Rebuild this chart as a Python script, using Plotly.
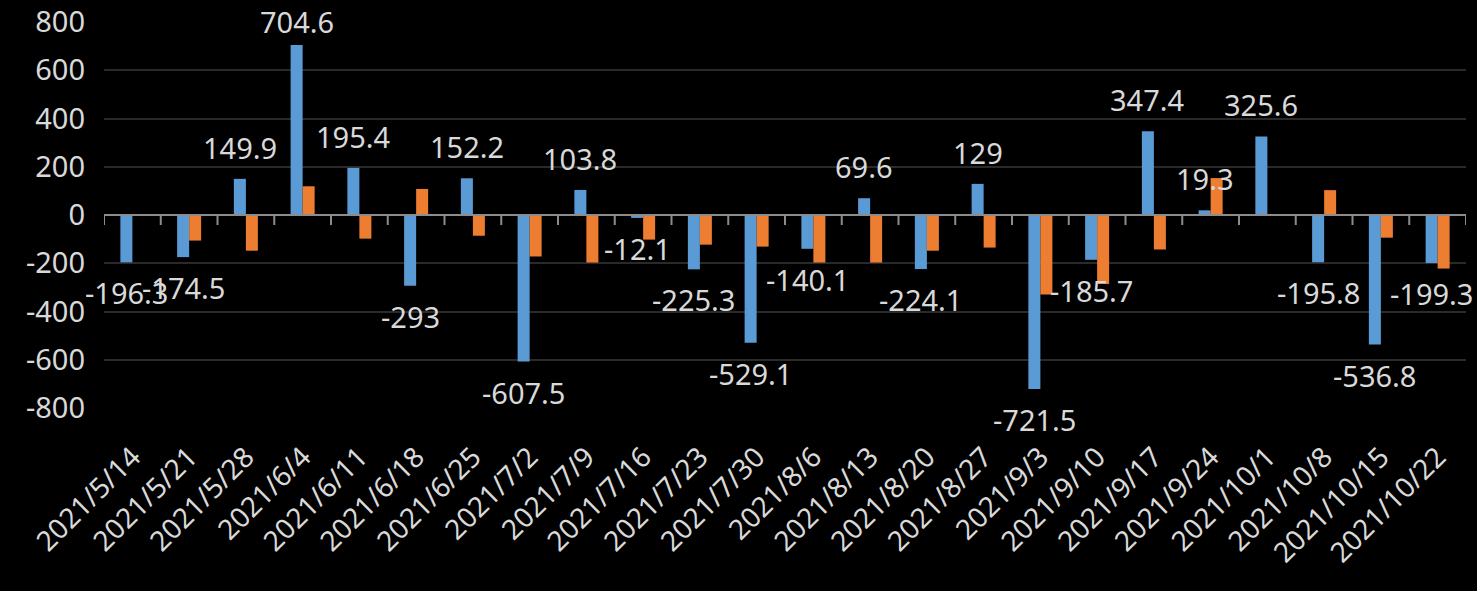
import plotly.graph_objects as go

# ---------------- data ----------------
dates = ["2021/5/14", "2021/5/21", "2021/5/28", "2021/6/4", "2021/6/11", "2021/6/18",
         "2021/6/25", "2021/7/2", "2021/7/9", "2021/7/16", "2021/7/23", "2021/7/30",
         "2021/8/6", "2021/8/13", "2021/8/20", "2021/8/27", "2021/9/3", "2021/9/10",
         "2021/9/17", "2021/9/24", "2021/10/1", "2021/10/8", "2021/10/15", "2021/10/22"]
blue_vals = [-196.3, -174.5, 149.9, 704.6, 195.4, -293, 152.2, -607.5, 103.8, -12.1,
             -225.3, -529.1, -140.1, 69.6, -224.1, 129, -721.5, -185.7, 347.4, 19.3,
             325.6, -195.8, -536.8, -199.3]
orange_vals = [-2, -106, -148, 119, -98, 108, -86, -172, -197, -102, -123, -131,
               -197, -197, -148, -135, -330, -286, -143, 153, -2, 103, -94, -222]
y_ticks = [-800, -600, -400, -200, 0, 200, 400, 600, 800]
y_tick_labels = ["-800", "-600", "-400", "-200", "0", "200", "400", "600", "800"]

# ---------------- style ----------------
FONT = "Noto Sans"
TXT = "#d9d9d9"
BLUE = "#5b9bd5"
ORANGE = "#ed7d31"
AXIS_GRAY = "#8c8c8c"
W, H = 1477, 591
ML, MR, MT, MB = 104, 11, 22, 183
Y_MIN, Y_MAX = -800, 800
LABEL_SIZE = 29
PLOT_H = H - MT - MB
ZERO_FRAC = (0 - Y_MIN) / (Y_MAX - Y_MIN)
TICK_PX = 10
TICK_LEN = TICK_PX * (Y_MAX - Y_MIN) / PLOT_H   # tick length in y units


def px_of(v):
    return MT + (Y_MAX - v) / (Y_MAX - Y_MIN) * PLOT_H


n = len(dates)
x_range = [-0.5, n - 0.5]
boundaries = [i - 0.5 for i in range(n + 1)]

# tick segments at category boundaries, hanging below the zero axis line
tick_x, tick_y = [], []
for b in boundaries:
    tick_x += [b, b, None]
    tick_y += [0, -TICK_LEN, None]

fig = go.Figure()
fig.add_trace(go.Bar(x=dates, y=blue_vals, marker=dict(color=BLUE, line_width=0),
                     hoverinfo="x+y"))
fig.add_trace(go.Bar(x=dates, y=orange_vals, marker=dict(color=ORANGE, line_width=0),
                     hoverinfo="x+y"))
fig.add_trace(go.Scatter(x=tick_x, y=tick_y, xaxis="x2", mode="lines",
                         line=dict(color=AXIS_GRAY, width=2), connectgaps=False,
                         cliponaxis=False, hoverinfo="skip", showlegend=False))

annotations = []
BOX_H = 41
for d, v in zip(dates, blue_vals):
    if v >= 0:
        shift = min(10, px_of(v) - BOX_H - 2)
        annotations.append(dict(x=d, y=v, text=str(v), showarrow=False, xshift=-6,
                                yshift=shift, yanchor="bottom", xanchor="center",
                                font=dict(family=FONT, size=LABEL_SIZE, color=TXT)))
    else:
        annotations.append(dict(x=d, y=v, text=str(v), showarrow=False, xshift=-6,
                                yshift=-9, yanchor="top", xanchor="center",
                                font=dict(family=FONT, size=LABEL_SIZE, color=TXT)))

fig.update_layout(
    width=W, height=H,
    margin=dict(l=ML, r=MR, t=MT, b=MB, autoexpand=False),
    paper_bgcolor="black", plot_bgcolor="black",
    showlegend=False,
    barmode="group", bargap=0.577, bargroupgap=0,
    font=dict(family=FONT, color=TXT),
    annotations=annotations,
    xaxis=dict(type="category", range=x_range, autorange=False, automargin=False,
               tickangle=-45, showgrid=False, showline=False,
               ticks="", zeroline=False, ticklabelstandoff=26,
               tickfont=dict(family=FONT, size=28, color=TXT)),
    xaxis2=dict(type="linear", overlaying="x", anchor="free", position=ZERO_FRAC,
                range=x_range, autorange=False, automargin=False,
                showline=True, linecolor=AXIS_GRAY, linewidth=2,
                ticks="", showticklabels=False, showgrid=False, zeroline=False),
    yaxis=dict(range=[Y_MIN, Y_MAX], autorange=False, automargin=False,
               tickvals=y_ticks, ticktext=y_tick_labels,
               gridcolor="#2a2a2a", gridwidth=2, zeroline=False, showline=False,
               ticks="", ticklabelstandoff=18,
               tickfont=dict(family=FONT, size=LABEL_SIZE, color=TXT)),
)

fig.write_html(
    "out.html",
    config={"displayModeBar": False},
    post_script="document.body.style.margin='0';document.body.style.background='black';"
                "document.body.style.overflow='hidden';",
)
